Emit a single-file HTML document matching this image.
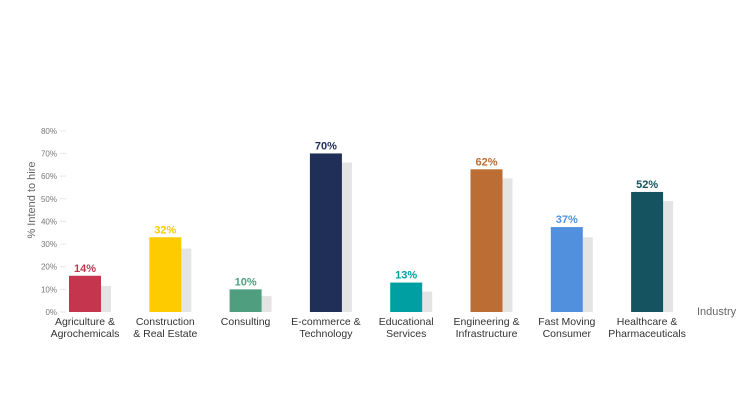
<!DOCTYPE html>
<html><head><meta charset="utf-8"><style>
body{margin:0;background:#fff;font-family:"Liberation Sans",sans-serif}
</style></head><body>
<svg id="c" width="750" height="400" xmlns="http://www.w3.org/2000/svg"></svg>
<script>
const categories=[["Agriculture &","Agrochemicals"],["Construction","& Real Estate"],["Consulting"],["E-commerce &","Technology"],["Educational","Services"],["Engineering &","Infrastructure"],["Fast Moving","Consumer"],["Healthcare &","Pharmaceuticals"]];
const values=[16,33,10,70,13,63,37.5,53];
const valueLabels=["14%","32%","10%","70%","13%","62%","37%","52%"];
const prevValues=[11.5,28,7,66,9,59,33,49];
const colors=["#c5364e","#fecb00","#4f9e7f","#1f2f57","#00a0a2","#bb6d34","#5090dd","#14535f"];
const ticks=[0,10,20,30,40,50,60,70,80];
const svg=document.getElementById('c');const NS='http://www.w3.org/2000/svg';
const y=v=>312-v*2.265;
const x=i=>69+i*80.3;
function mk(t,a,txt){const e=document.createElementNS(NS,t);for(const k in a)e.setAttribute(k,a[k]);if(txt!==undefined)e.textContent=txt;svg.appendChild(e);return e;}
ticks.forEach(t=>{const e=mk('text',{x:57,y:y(t)+3,'text-anchor':'end','font-size':8,fill:'#777'},t+'%');


const l=mk('line',{x1:60,x2:66,y1:y(t),y2:y(t),stroke:'#e6e6e6'});

});
const yt=mk('text',{x:0,y:0,transform:'translate(35,200) rotate(-90)','text-anchor':'middle','font-size':11,fill:'#666'},'% Intend to hire');


const xt=mk('text',{x:697,y:315,'font-size':11,fill:'#666'},'Industry');


categories.forEach((c,i)=>{const bx=x(i);
const g=mk('rect',{x:bx+32,y:y(prevValues[i]),width:10,height:312-y(prevValues[i]),fill:'#e4e4e4'});


const b=mk('rect',{x:bx,y:y(values[i]),width:32,height:312-y(values[i]),fill:colors[i]});


const v=mk('text',{x:bx+16,y:y(values[i])-4,'text-anchor':'middle','font-size':11,'font-weight':'bold',fill:colors[i]},valueLabels[i]);


c.forEach((ln,j)=>{const t=mk('text',{x:bx+16,y:325+j*12,'text-anchor':'middle','font-size':10.5,fill:'#333'},ln);

});});
</script>
</body></html>
